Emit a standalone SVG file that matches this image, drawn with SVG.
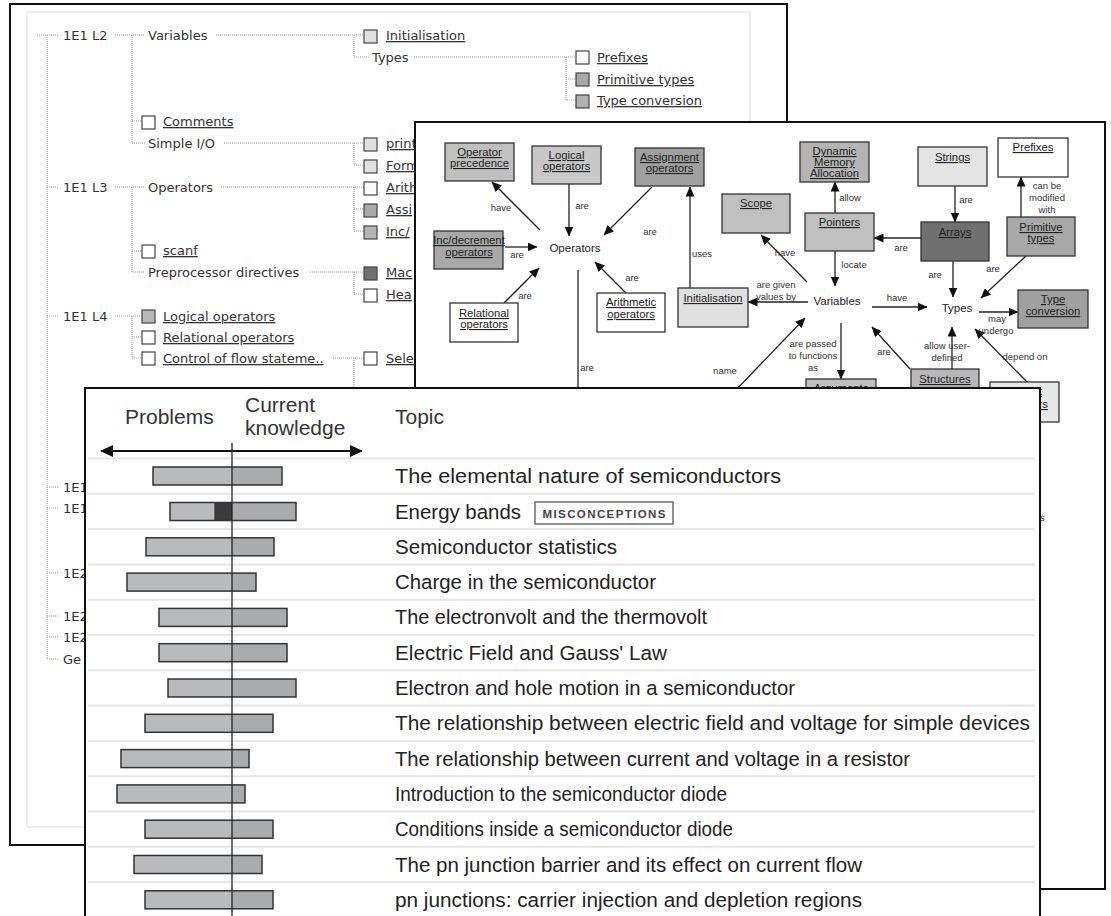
<svg xmlns="http://www.w3.org/2000/svg" width="1111" height="916" viewBox="0 0 1111 916">
<defs>
<marker id="ah" markerWidth="10" markerHeight="9" refX="9.5" refY="4.5" orient="auto" markerUnits="userSpaceOnUse"><path d="M0,0 L10,4.5 L0,9 Z" fill="#111"/></marker>
<marker id="bh" markerWidth="13" markerHeight="12" refX="12" refY="6" orient="auto-start-reverse" markerUnits="userSpaceOnUse"><path d="M0,0 L13,6 L0,12 Z" fill="#111"/></marker>
<style>
.tt{font-family:"DejaVu Sans",Verdana,sans-serif;font-size:13px;fill:#333}
.u{text-decoration:underline}
.dl{stroke:#9a9a9a;stroke-width:1;stroke-dasharray:1 1;fill:none}
.cb{stroke:#444;stroke-width:1.2}
.nd rect{stroke:#333;stroke-width:1.3}
.nt{font-family:"Liberation Sans",Arial,sans-serif;font-size:11.3px;fill:#222;text-anchor:middle;text-decoration:underline}
.pt{font-family:"Liberation Sans",Arial,sans-serif;font-size:11.5px;fill:#222;text-anchor:middle}
.el{font-family:"Liberation Sans",Arial,sans-serif;font-size:9.5px;fill:#333;text-anchor:middle}
.ed{stroke:#222;stroke-width:1.3;fill:none;marker-end:url(#ah)}
.hd{font-family:"Liberation Sans",Arial,sans-serif;font-size:21px;fill:#333}
.tp{font-family:"Liberation Sans",Arial,sans-serif;font-size:20.5px;fill:#222}
.sep{stroke:#e6e6e6;stroke-width:2}
.bl{fill:#b9babc}
.br{fill:#aaabad}
.bo{fill:none;stroke:#333;stroke-width:1.5}
.panel{fill:#fff;stroke:#111;stroke-width:2}
</style>
</defs>

<!-- BACK PANEL: outline tree -->
<g id="panel-outline">
<rect class="panel" x="10" y="4" width="777" height="841"/>
<rect x="27" y="12" width="723" height="815" fill="none" stroke="#e8e8e8" stroke-width="1.5"/>
<g id="tree-lines">
<path class="dl" d="M37,35 H58 M47,35 V659 H58 M47,187 H58 M47,316 H58 M47,487 H58 M47,508 H58 M47,573 H58 M47,616 H58 M47,637 H58"/>
<path class="dl" d="M115,35 H145 M132,35 V143 H145 M132,121 H142"/>
<path class="dl" d="M115,187 H145 M132,187 V272 H145 M132,251 H142"/>
<path class="dl" d="M115,316 H142 M132,316 V358 H142 M132,337 H142"/>
<path class="dl" d="M216,35 H364 M354,35 V57 H369"/>
<path class="dl" d="M414,57 H576 M566,57 V100 H576 M566,79 H576"/>
<path class="dl" d="M224,143 H364 M354,143 V165 H364"/>
<path class="dl" d="M221,187 H364 M354,187 V231 H364 M354,209 H364"/>
<path class="dl" d="M310,272 H364 M354,272 V294 H364"/>
<path class="dl" d="M333,358 H364 M354,358 V400"/>
</g>
<g id="t-1e1l2"><text class="tt" x="63" y="40">1E1 L2</text></g>
<g id="t-variables"><text class="tt" x="148" y="40">Variables</text></g>
<g id="t-initialisation"><rect class="cb" x="364" y="30" width="13" height="13" fill="#e0e0e0"/><text class="tt u" x="386" y="40">Initialisation</text></g>
<g id="t-types"><text class="tt" x="372" y="62">Types</text></g>
<g id="t-prefixes"><rect class="cb" x="576" y="51" width="13" height="13" fill="#fff"/><text class="tt u" x="597" y="62">Prefixes</text></g>
<g id="t-primitive"><rect class="cb" x="576" y="73" width="13" height="13" fill="#a8a8a8"/><text class="tt u" x="597" y="84">Primitive types</text></g>
<g id="t-typeconv"><rect class="cb" x="576" y="95" width="13" height="13" fill="#b0b0b0"/><text class="tt u" x="597" y="105">Type conversion</text></g>
<g id="t-comments"><rect class="cb" x="142" y="116" width="13" height="13" fill="#fff"/><text class="tt u" x="163" y="126">Comments</text></g>
<g id="t-simpleio"><text class="tt" x="148" y="148">Simple I/O</text></g>
<g id="t-print"><rect class="cb" x="364" y="138" width="13" height="13" fill="#e0e0e0"/><text class="tt u" x="386" y="148">print</text></g>
<g id="t-form"><rect class="cb" x="364" y="160" width="13" height="13" fill="#e0e0e0"/><text class="tt u" x="386" y="170">Form</text></g>
<g id="t-1e1l3"><text class="tt" x="63" y="192">1E1 L3</text></g>
<g id="t-operators"><text class="tt" x="148" y="192">Operators</text></g>
<g id="t-arith"><rect class="cb" x="364" y="182" width="13" height="13" fill="#fafafa"/><text class="tt u" x="386" y="192">Arith</text></g>
<g id="t-assi"><rect class="cb" x="364" y="204" width="13" height="13" fill="#a8a8a8"/><text class="tt u" x="386" y="214">Assi</text></g>
<g id="t-inc"><rect class="cb" x="364" y="226" width="13" height="13" fill="#b4b4b4"/><text class="tt u" x="386" y="236">Inc/</text></g>
<g id="t-scanf"><rect class="cb" x="142" y="245" width="13" height="13" fill="#fff"/><text class="tt u" x="163" y="255">scanf</text></g>
<g id="t-preproc"><text class="tt" x="148" y="277">Preprocessor directives</text></g>
<g id="t-mac"><rect class="cb" x="364" y="267" width="13" height="13" fill="#707070"/><text class="tt u" x="386" y="277">Mac</text></g>
<g id="t-hea"><rect class="cb" x="364" y="289" width="13" height="13" fill="#fff"/><text class="tt u" x="386" y="299">Hea</text></g>
<g id="t-1e1l4"><text class="tt" x="63" y="321">1E1 L4</text></g>
<g id="t-logical"><rect class="cb" x="142" y="310" width="13" height="13" fill="#b8b8b8"/><text class="tt u" x="163" y="321">Logical operators</text></g>
<g id="t-relational"><rect class="cb" x="142" y="331" width="13" height="13" fill="#fff"/><text class="tt u" x="163" y="342">Relational operators</text></g>
<g id="t-control"><rect class="cb" x="142" y="352" width="13" height="13" fill="#fff"/><text class="tt u" x="163" y="363">Control of flow stateme..</text></g>
<g id="t-sele"><rect class="cb" x="364" y="352" width="13" height="13" fill="#fff"/><text class="tt u" x="386" y="363">Sele</text></g>
<g id="t-low"><text class="tt" x="63" y="492">1E1</text><text class="tt" x="63" y="513">1E1</text><text class="tt" x="63" y="578">1E2</text><text class="tt" x="63" y="621">1E2</text><text class="tt" x="63" y="642">1E2</text><text class="tt" x="63" y="664">Ge</text></g>
</g>

<!-- MIDDLE PANEL: concept map -->
<g id="panel-map">
<rect class="panel" x="415" y="122" width="690" height="767"/>
<g id="connectors">
<path class="ed" d="M540,230 L492,182"/>
<path class="ed" d="M569,184 V236"/>
<path class="ed" d="M652,187 L604,235"/>
<path class="ed" d="M505,247 H537"/>
<path class="ed" d="M504,303 L539,268"/>
<path class="ed" d="M626,293 L595,262"/>
<path class="ed" d="M690,288 V187"/>
<path class="ed" d="M808,302 H748"/>
<path class="ed" d="M807,282 L761,235"/>
<path class="ed" d="M835,213 V182"/>
<path class="ed" d="M835,251 V286"/>
<path class="ed" d="M955,186 V222"/>
<path class="ed" d="M921,238 H874"/>
<path class="ed" d="M953,261 V297"/>
<path class="ed" d="M1021,217 V177"/>
<path class="ed" d="M1026,256 L981,298"/>
<path class="ed" d="M872,307 H927"/>
<path class="ed" d="M979,312 H1018"/>
<path class="ed" d="M841,323 V379"/>
<path class="ed" d="M910,369 L872,327"/>
<path class="ed" d="M952,369 V327"/>
<path class="ed" d="M1028,383 L975,329"/>
<path class="ed" d="M734,392 L805,318"/>
<path d="M578,270 V392" stroke="#222" stroke-width="1.3" fill="none"/>
<text class="el" x="501" y="211">have</text>
<text class="el" x="582" y="209">are</text>
<text class="el" x="650" y="235">are</text>
<text class="el" x="517" y="258">are</text>
<text class="el" x="525" y="299">are</text>
<text class="el" x="632" y="281">are</text>
<text class="el" x="702" y="257">uses</text>
<text class="el" x="850" y="201">allow</text>
<text class="el" x="966" y="203">are</text>
<text class="el" x="1047" y="189">can be</text>
<text class="el" x="1047" y="201">modified</text>
<text class="el" x="1047" y="213">with</text>
<text class="el" x="785" y="256">have</text>
<text class="el" x="901" y="251">are</text>
<text class="el" x="854" y="268">locate</text>
<text class="el" x="935" y="278">are</text>
<text class="el" x="993" y="272">are</text>
<text class="el" x="776" y="288">are given</text>
<text class="el" x="776" y="300">values by</text>
<text class="el" x="897" y="301">have</text>
<text class="el" x="997" y="322">may</text>
<text class="el" x="996" y="334">undergo</text>
<text class="el" x="813" y="347">are passed</text>
<text class="el" x="813" y="359">to functions</text>
<text class="el" x="813" y="371">as</text>
<text class="el" x="884" y="355">are</text>
<text class="el" x="947" y="349">allow user-</text>
<text class="el" x="947" y="361">defined</text>
<text class="el" x="1025" y="360">depend on</text>
<text class="el" x="725" y="374">name</text>
<text class="el" x="587" y="371">are</text>
<text class="el" x="1040" y="521" style="text-anchor:start">s</text>
</g>
<g id="n-opprec" class="nd"><rect x="445" y="143" width="69" height="38" fill="#c0c0c0"/><text class="nt" x="479.5" y="156">Operator</text><text class="nt" x="479.5" y="167">precedence</text></g>
<g id="n-logical" class="nd"><rect x="532" y="146" width="69" height="38" fill="#c8c8c8"/><text class="nt" x="566.5" y="159">Logical</text><text class="nt" x="566.5" y="170">operators</text></g>
<g id="n-assign" class="nd"><rect x="635" y="148" width="69" height="38" fill="#a0a0a0"/><text class="nt" x="669.5" y="161">Assignment</text><text class="nt" x="669.5" y="172">operators</text></g>
<g id="n-incdec" class="nd"><rect x="434" y="231" width="69" height="38" fill="#a8a8a8"/><text class="nt" x="469" y="244">Inc/decrement</text><text class="nt" x="469" y="256">operators</text></g>
<g id="n-operators"><text class="pt" x="575" y="252">Operators</text></g>
<g id="n-relational" class="nd"><rect x="450" y="303" width="68" height="39" fill="#fff"/><text class="nt" x="484" y="317">Relational</text><text class="nt" x="484" y="328">operators</text></g>
<g id="n-arith" class="nd"><rect x="597" y="293" width="68" height="39" fill="#fff"/><text class="nt" x="631" y="306">Arithmetic</text><text class="nt" x="631" y="318">operators</text></g>
<g id="n-init" class="nd"><rect x="678" y="288" width="70" height="39" fill="#e0e0e0"/><text class="nt" x="713" y="302">Initialisation</text></g>
<g id="n-scope" class="nd"><rect x="722" y="194" width="68" height="39" fill="#c0c0c0"/><text class="nt" x="756" y="207">Scope</text></g>
<g id="n-dma" class="nd"><rect x="800" y="142" width="69" height="40" fill="#b4b4b4"/><text class="nt" x="834.5" y="155">Dynamic</text><text class="nt" x="834.5" y="166">Memory</text><text class="nt" x="834.5" y="177">Allocation</text></g>
<g id="n-pointers" class="nd"><rect x="805" y="213" width="69" height="38" fill="#c0c0c0"/><text class="nt" x="839.5" y="226">Pointers</text></g>
<g id="n-strings" class="nd"><rect x="918" y="147" width="69" height="39" fill="#e4e4e4"/><text class="nt" x="952.5" y="161">Strings</text></g>
<g id="n-prefixes" class="nd"><rect x="998" y="138" width="70" height="39" fill="#fff"/><text class="nt" x="1033" y="151">Prefixes</text></g>
<g id="n-arrays" class="nd"><rect x="921" y="222" width="68" height="39" fill="#707070"/><text class="nt" x="955" y="236">Arrays</text></g>
<g id="n-primitive" class="nd"><rect x="1007" y="217" width="68" height="39" fill="#a8a8a8"/><text class="nt" x="1041" y="231">Primitive</text><text class="nt" x="1041" y="242">types</text></g>
<g id="n-variables"><text class="pt" x="837" y="305">Variables</text></g>
<g id="n-types"><text class="pt" x="957" y="312">Types</text></g>
<g id="n-typeconv" class="nd"><rect x="1018" y="290" width="70" height="38" fill="#a0a0a0"/><text class="nt" x="1053" y="303">Type</text><text class="nt" x="1053" y="315">conversion</text></g>
<g id="n-arguments" class="nd"><rect x="806" y="379" width="70" height="40" fill="#c0c0c0"/><text class="nt" x="841" y="392">Arguments</text></g>
<g id="n-structures" class="nd"><rect x="911" y="369" width="68" height="40" fill="#b8b8b8"/><text class="nt" x="945" y="383">Structures</text></g>
<g id="n-format" class="nd"><rect x="990" y="382" width="69" height="40" fill="#e8e8e8"/><text class="nt" x="1024" y="395">Format</text><text class="nt" x="1024" y="408">specifiers</text></g>
</g>

<!-- FRONT PANEL: table -->
<g id="panel-table">
<rect class="panel" x="85" y="388" width="955" height="540"/>
<g id="header">
<text class="hd" x="125" y="424">Problems</text>
<text class="hd" x="245" y="412">Current</text>
<text class="hd" x="245" y="435">knowledge</text>
<text class="hd" x="395" y="424">Topic</text>
<path d="M101,451 H362" stroke="#111" stroke-width="2" marker-start="url(#bh)" marker-end="url(#bh)"/>
</g>
<g id="separators">
<path class="sep" d="M88,458.5 H1035 M88,493.8 H1035 M88,529.1 H1035 M88,564.4 H1035 M88,599.7 H1035 M88,635 H1035 M88,670.3 H1035 M88,705.6 H1035 M88,740.9 H1035 M88,776.2 H1035 M88,811.5 H1035 M88,846.8 H1035 M88,882.1 H1035"/>
</g>
<g id="row1"><rect class="bl" x="153" y="467" width="79" height="18"/><rect class="br" x="232" y="467" width="50" height="18"/><rect class="bo" x="153" y="467" width="129" height="18"/><text class="tp" x="395" y="483" textLength="386" lengthAdjust="spacingAndGlyphs">The elemental nature of semiconductors</text></g>
<g id="row2"><rect class="bl" x="170" y="502.5" width="62" height="18"/><rect x="215" y="502.5" width="17" height="18" fill="#3b3b3d"/><rect class="br" x="232" y="502.5" width="64" height="18"/><rect class="bo" x="170" y="502.5" width="126" height="18"/><path d="M215,502.5 V520.5" stroke="#333" stroke-width="1.2"/><text class="tp" x="395" y="518.5" textLength="126" lengthAdjust="spacingAndGlyphs">Energy bands</text>
<rect x="535" y="502" width="138" height="22" fill="#fff" stroke="#555" stroke-width="1.3"/><text x="604" y="517.5" text-anchor="middle" font-family="Liberation Sans, Arial, sans-serif" font-size="11.5" font-weight="bold" fill="#444" textLength="123">MISCONCEPTIONS</text></g>
<g id="row3"><rect class="bl" x="146" y="537.8" width="86" height="18"/><rect class="br" x="232" y="537.8" width="42" height="18"/><rect class="bo" x="146" y="537.8" width="128" height="18"/><text class="tp" x="395" y="553.8" textLength="222" lengthAdjust="spacingAndGlyphs">Semiconductor statistics</text></g>
<g id="row4"><rect class="bl" x="127" y="573.1" width="105" height="18"/><rect class="br" x="232" y="573.1" width="24" height="18"/><rect class="bo" x="127" y="573.1" width="129" height="18"/><text class="tp" x="395" y="589.1" textLength="261" lengthAdjust="spacingAndGlyphs">Charge in the semiconductor</text></g>
<g id="row5"><rect class="bl" x="159" y="608.4" width="73" height="18"/><rect class="br" x="232" y="608.4" width="55" height="18"/><rect class="bo" x="159" y="608.4" width="128" height="18"/><text class="tp" x="395" y="624.4" textLength="312" lengthAdjust="spacingAndGlyphs">The electronvolt and the thermovolt</text></g>
<g id="row6"><rect class="bl" x="159" y="643.7" width="73" height="18"/><rect class="br" x="232" y="643.7" width="55" height="18"/><rect class="bo" x="159" y="643.7" width="128" height="18"/><text class="tp" x="395" y="659.7" textLength="272" lengthAdjust="spacingAndGlyphs">Electric Field and Gauss' Law</text></g>
<g id="row7"><rect class="bl" x="168" y="679" width="64" height="18"/><rect class="br" x="232" y="679" width="64" height="18"/><rect class="bo" x="168" y="679" width="128" height="18"/><text class="tp" x="395" y="695" textLength="400" lengthAdjust="spacingAndGlyphs">Electron and hole motion in a semiconductor</text></g>
<g id="row8"><rect class="bl" x="145" y="714.3" width="87" height="18"/><rect class="br" x="232" y="714.3" width="41" height="18"/><rect class="bo" x="145" y="714.3" width="128" height="18"/><text class="tp" x="395" y="730.3" textLength="635" lengthAdjust="spacingAndGlyphs">The relationship between electric field and voltage for simple devices</text></g>
<g id="row9"><rect class="bl" x="121" y="749.6" width="111" height="18"/><rect class="br" x="232" y="749.6" width="17" height="18"/><rect class="bo" x="121" y="749.6" width="128" height="18"/><text class="tp" x="395" y="765.6" textLength="515" lengthAdjust="spacingAndGlyphs">The relationship between current and voltage in a resistor</text></g>
<g id="row10"><rect class="bl" x="117" y="784.9" width="115" height="18"/><rect class="br" x="232" y="784.9" width="13" height="18"/><rect class="bo" x="117" y="784.9" width="128" height="18"/><text class="tp" x="395" y="800.9" textLength="332" lengthAdjust="spacingAndGlyphs">Introduction to the semiconductor diode</text></g>
<g id="row11"><rect class="bl" x="145" y="820.2" width="87" height="18"/><rect class="br" x="232" y="820.2" width="41" height="18"/><rect class="bo" x="145" y="820.2" width="128" height="18"/><text class="tp" x="395" y="836.2" textLength="338" lengthAdjust="spacingAndGlyphs">Conditions inside a semiconductor diode</text></g>
<g id="row12"><rect class="bl" x="134" y="855.5" width="98" height="18"/><rect class="br" x="232" y="855.5" width="30" height="18"/><rect class="bo" x="134" y="855.5" width="128" height="18"/><text class="tp" x="395" y="871.5" textLength="467" lengthAdjust="spacingAndGlyphs">The pn junction barrier and its effect on current flow</text></g>
<g id="row13"><rect class="bl" x="145" y="890.8" width="87" height="18"/><rect class="br" x="232" y="890.8" width="41" height="18"/><rect class="bo" x="145" y="890.8" width="128" height="18"/><text class="tp" x="395" y="906.8" textLength="467" lengthAdjust="spacingAndGlyphs">pn junctions: carrier injection and depletion regions</text></g>
<path id="axis" d="M232,443 V916" stroke="#222" stroke-width="1.3"/>
</g>
</svg>
